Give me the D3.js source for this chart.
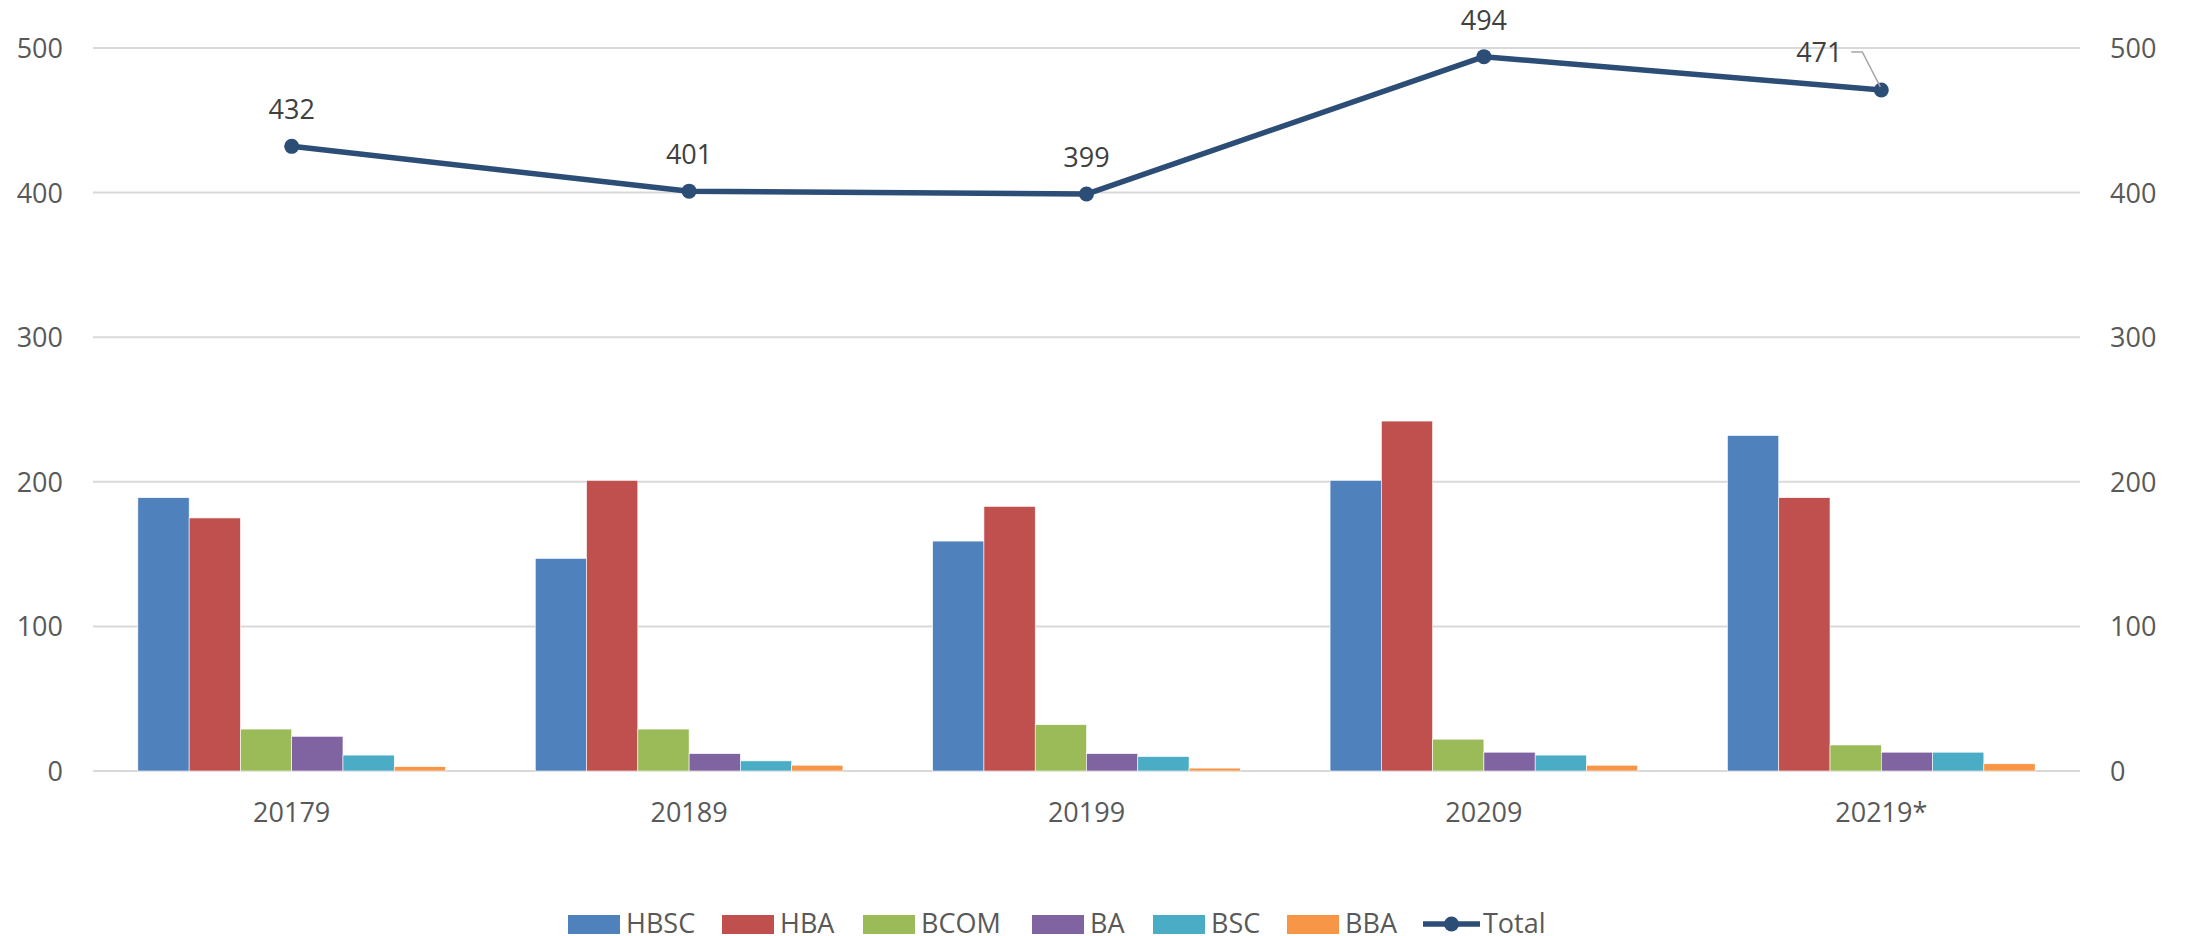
<!DOCTYPE html>
<html>
<head>
<meta charset="utf-8">
<script src="https://cdn.jsdelivr.net/npm/d3@7"></script>
<style>
  body { margin: 0; background: #fff; }
  svg { display: block; font-family: "Open Sans", sans-serif; }
</style>
</head>
<body>
<div id="chart"></div>
<script>
// data
const categories = ["20179", "20189", "20199", "20209", "20219*"];
const seriesNames = ["HBSC", "HBA", "BCOM", "BA", "BSC", "BBA"];
const hbsc = [189, 147, 159, 201, 232];
const hba = [175, 201, 183, 242, 189];
const bcom = [29, 29, 32, 22, 18];
const ba = [24, 12, 12, 13, 13];
const bsc = [11, 7, 10, 11, 13];
const bba = [3, 4, 2, 4, 5];
const total = [432, 401, 399, 494, 471];
const yTicks = [0, 100, 200, 300, 400, 500];
const colors = ["#4F81BD", "#C0504D", "#9BBB59", "#8064A2", "#4BACC6", "#F79646"];

const seriesValues = [hbsc, hba, bcom, ba, bsc, bba];

const width = 2187, height = 936;
const margin = { left: 93, right: 107, top: 48, bottom: 165 };

const svg = d3.select("#chart").append("svg")
  .attr("width", width)
  .attr("height", height);

const x = d3.scaleBand()
  .domain(categories)
  .range([margin.left, width - margin.right])
  .padding(0);

const xInner = d3.scaleBand()
  .domain(seriesNames)
  .range([0, x.bandwidth()])
  .paddingInner(0)
  .paddingOuter(0.875);

const y = d3.scaleLinear().domain([0, 500]).range([height - margin.bottom, margin.top]);
// secondary axis, same range as primary in the reference
const y2 = d3.scaleLinear().domain([0, 500]).range([height - margin.bottom, margin.top]);

// gridlines
svg.append("g")
  .selectAll("line")
  .data(yTicks)
  .join("line")
  .attr("x1", margin.left)
  .attr("x2", width - margin.right)
  .attr("y1", d => y(d))
  .attr("y2", d => y(d))
  .attr("stroke", "#d9d9d9")
  .attr("stroke-width", 2);

// left axis labels
svg.append("g")
  .selectAll("text")
  .data(yTicks)
  .join("text")
  .attr("x", 63)
  .attr("y", d => y(d) + 10)
  .attr("text-anchor", "end")
  .attr("font-size", 27)
  .attr("fill", "#595959")
  .text(d => d);

// right axis labels
svg.append("g")
  .selectAll("text")
  .data(yTicks)
  .join("text")
  .attr("x", 2110)
  .attr("y", d => y2(d) + 10)
  .attr("text-anchor", "start")
  .attr("font-size", 27)
  .attr("fill", "#595959")
  .text(d => d);

// bars
const groups = svg.append("g")
  .selectAll("g")
  .data(categories)
  .join("g")
  .attr("transform", d => `translate(${x(d)},0)`);

groups.selectAll("rect")
  .data((c, i) => seriesNames.map((s, j) => ({ s, j, v: seriesValues[j][i] })))
  .join("rect")
  .attr("x", d => xInner(d.s))
  .attr("width", xInner.bandwidth())
  .attr("y", d => y(d.v))
  .attr("height", d => y(0) - y(d.v))
  .attr("fill", d => colors[d.j])
  .attr("stroke", "#ffffff")
  .attr("stroke-width", 0.6);

// category labels
svg.append("g")
  .selectAll("text")
  .data(categories)
  .join("text")
  .attr("x", d => x(d) + x.bandwidth() / 2)
  .attr("y", 822)
  .attr("text-anchor", "middle")
  .attr("font-size", 27)
  .attr("fill", "#595959")
  .text(d => d);

// total line
const cx = (d, i) => x(categories[i]) + x.bandwidth() / 2;
const line = d3.line()
  .x((d, i) => cx(d, i))
  .y(d => y2(d));

svg.append("path")
  .datum(total)
  .attr("d", line)
  .attr("fill", "none")
  .attr("stroke", "#2C4D75")
  .attr("stroke-width", 5.5)
  .attr("stroke-linejoin", "round");

svg.append("g")
  .selectAll("circle")
  .data(total)
  .join("circle")
  .attr("cx", (d, i) => cx(d, i))
  .attr("cy", d => y2(d))
  .attr("r", 7.5)
  .attr("fill", "#2C4D75");

// data labels; the last one sits up-left with a leader line
const last = total.length - 1;
svg.append("g")
  .selectAll("text")
  .data(total)
  .join("text")
  .attr("x", (d, i) => i === last ? cx(d, i) - 62 : cx(d, i))
  .attr("y", (d, i) => i === last ? y2(d) - 28 : y2(d) - 27)
  .attr("text-anchor", "middle")
  .attr("font-size", 27)
  .attr("fill", "#404040")
  .text(d => d);

const lx = cx(total[last], last), ly = y2(total[last]);
svg.append("path")
  .attr("d", `M${lx - 30},${ly - 38}H${lx - 19}L${lx - 1},${ly - 3}`)
  .attr("fill", "none")
  .attr("stroke", "#a6a6a6")
  .attr("stroke-width", 1.5);

// legend (slot positions taken from the reference layout)
const legendX = [568, 722, 863, 1032, 1153, 1287, 1423];
const legend = svg.append("g");
seriesNames.forEach((s, j) => {
  const g = legend.append("g").attr("transform", `translate(${legendX[j]},0)`);
  g.append("rect")
    .attr("x", 0).attr("y", 915)
    .attr("width", 52).attr("height", 19)
    .attr("fill", colors[j]);
  g.append("text")
    .attr("x", 58).attr("y", 933)
    .attr("font-size", 27)
    .attr("fill", "#595959")
    .text(s);
});
const gt = legend.append("g").attr("transform", `translate(${legendX[6]},0)`);
gt.append("line")
  .attr("x1", 0).attr("x2", 57)
  .attr("y1", 924).attr("y2", 924)
  .attr("stroke", "#2C4D75").attr("stroke-width", 5.5);
gt.append("circle")
  .attr("cx", 28.5).attr("cy", 924).attr("r", 7.5)
  .attr("fill", "#2C4D75");
gt.append("text")
  .attr("x", 60).attr("y", 933)
  .attr("font-size", 27)
  .attr("fill", "#595959")
  .text("Total");
</script>
</body>
</html>
